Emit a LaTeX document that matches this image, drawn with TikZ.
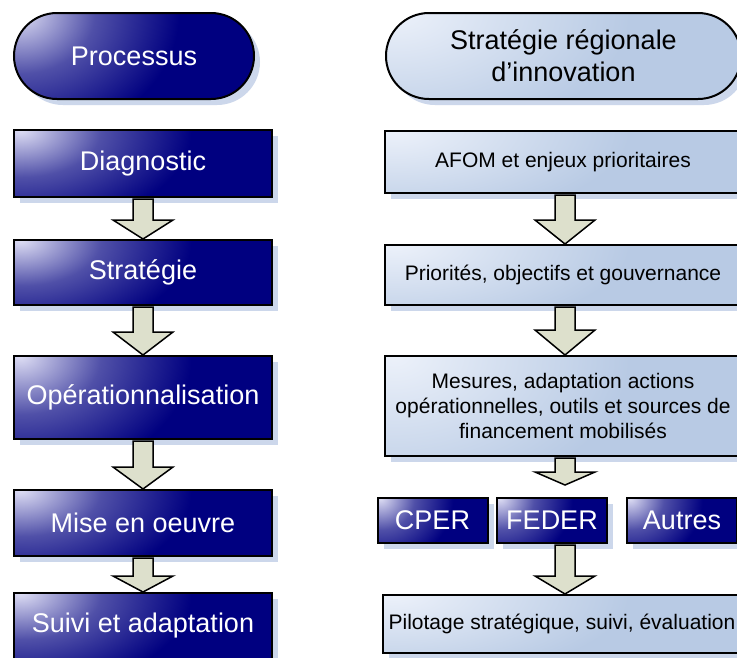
\documentclass[tikz,border=0pt]{standalone}
\usepackage{fontspec}
\setmainfont{Liberation Sans}
\usetikzlibrary{shapes.misc,shadows,calc}

\definecolor{navytop}{RGB}{222,222,244}
\definecolor{navymid}{RGB}{80,80,168}
\definecolor{navybot}{RGB}{0,0,128}
\definecolor{paletop}{RGB}{236,241,250}
\definecolor{palebot}{RGB}{184,202,228}
\definecolor{shadowblue}{RGB}{204,215,235}
\definecolor{arrowfill}{RGB}{221,224,204}

\pgfdeclareradialshading{darkglow}{\pgfpointorigin}{color(0bp)=(navytop); color(8bp)=(navymid);
  color(17bp)=(navybot); color(50bp)=(navybot)}
\pgfdeclareradialshading{paleglow}{\pgfpointorigin}{color(0bp)=(paletop); color(17bp)=(palebot);
  color(50bp)=(palebot)}

\tikzset{
  boxshadow/.style={general shadow={shadow xshift=6pt, shadow yshift=-6pt, fill=shadowblue}},
  cornerglow/.style n args={2}{fill=#2, path picture={
    \shade[shading=#1]
      let \p1=($(path picture bounding box.north east)-(path picture bounding box.south west)$) in
      (path picture bounding box.north west) ellipse [x radius=0.95*\x1, y radius=2.2*\y1];}},
  darkfill/.style={draw=black, line width=2pt, boxshadow, cornerglow={darkglow}{navybot},
    text=white, inner sep=0pt},
  palefill/.style={draw=black, line width=2pt, boxshadow, cornerglow={paleglow}{palebot},
    text=black, inner sep=0pt, align=center},
  bigtext/.style={font=\fontsize{27}{32}\selectfont},
  smalltext/.style={font=\fontsize{21}{25}\selectfont},
  darkpill/.style={darkfill, bigtext, rounded rectangle},
  palepill/.style={palefill, bigtext, rounded rectangle},
  darkbox/.style={darkfill, bigtext, minimum width=258pt},
  palebox/.style={palefill, smalltext, minimum width=356pt},
  fundbox/.style={darkfill, bigtext, minimum width=110pt, minimum height=45pt},
  blockarrow/.style={draw=black, fill=arrowfill, line width=1.5pt, line join=miter}
}

% [gap]{column}{from}{to}{head length}
\newcommand{\flowarrow}[5][0]{%
  \path (#3.south -| #2) coordinate (as) (#4.north -| #2) coordinate (at);
  \draw[blockarrow] ($(as)+(-10,1)$) -- ($(at)+(-10,-#5-#1)$) -- ($(at)+(-30,-#5-#1)$)
    -- ($(at)+(0,-#1)$) -- ($(at)+(30,-#5-#1)$) -- ($(at)+(10,-#5-#1)$)
    -- ($(as)+(10,1)$) -- cycle;
}

\begin{document}
\begin{tikzpicture}[x=1pt, y=-1pt]
\clip (0,0) rectangle (737,657);
\fill[white] (0,0) rectangle (737,657);

\coordinate (colL) at (143,0);
\coordinate (colR) at (565,0);

\node[darkpill, minimum width=240pt, minimum height=86pt] (processus) at (134,56) {Processus};
\node[darkbox, minimum height=67pt] (diagnostic) at (143,163.5) {Diagnostic};
\node[darkbox, minimum height=65pt] (strategie) at (143,272.5) {Stratégie};
\node[darkbox, minimum height=83pt] (operation) at (143,397.5) {Opérationnalisation};
\node[darkbox, minimum height=66pt] (miseoeuvre) at (143,523) {Mise en oeuvre};
\node[darkbox, minimum height=66pt] (suivi) at (143,626) {Suivi et adaptation};

\node[palepill, minimum width=355pt, minimum height=86pt] (sri) at (563.5,56) {Stratégie régionale\\d’innovation};
\node[palebox, minimum height=62pt] (afom) at (563,162) {AFOM et enjeux prioritaires};
\node[palebox, minimum height=60pt] (priorites) at (563,275) {Priorités, objectifs et gouvernance};
\node[palebox, minimum height=100pt] (mesures) at (563,406) {Mesures, adaptation actions\\opérationnelles, outils et sources de\\financement mobilisés};
\node[fundbox] (cper) at (432.5,520.5) {CPER};
\node[fundbox] (feder) at (552,520.5) {FEDER};
\node[fundbox] (autres) at (682,520.5) {Autres};
\node[palebox, minimum width=358pt, minimum height=58pt] (pilotage) at (562,624) {Pilotage stratégique, suivi, évaluation};

\flowarrow{colL}{diagnostic}{strategie}{19}
\flowarrow{colL}{strategie}{operation}{23}
\flowarrow{colL}{operation}{miseoeuvre}{22}
\flowarrow{colL}{miseoeuvre}{suivi}{16}
\flowarrow{colR}{afom}{priorites}{24}
\flowarrow{colR}{priorites}{mesures}{25}
\flowarrow[12]{colR}{mesures}{feder}{13}
\flowarrow{colR}{feder}{pilotage}{18}
\end{tikzpicture}
\end{document}
